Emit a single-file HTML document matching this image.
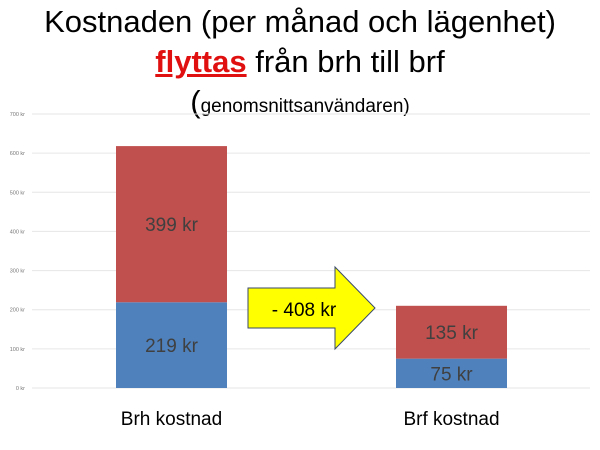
<!DOCTYPE html>
<html><head><meta charset="utf-8"><style>
body{margin:0;width:600px;height:450px;background:#fff;overflow:hidden;font-family:"Liberation Sans",sans-serif}
.t{position:absolute;left:0;width:600px;text-align:center;color:#000}
</style></head><body>
<div class="t" style="top:4px;font-size:31px">Kostnaden (per månad och lägenhet)</div>
<div class="t" style="top:44px;font-size:31px"><b style="color:#e01010;text-decoration:underline">flyttas</b> från brh till brf</div>
<div class="t" style="top:84px;font-size:31px">(<span style="font-size:19px">genomsnittsanvändaren)</span></div>
<svg id="c" width="600" height="450" style="position:absolute;left:0;top:0"></svg>
<script>
const categories=["Brh kostnad","Brf kostnad"];
const bottomVals=[219,75];
const topVals=[399,135];
const ticks=[0,100,200,300,400,500,600,700];
const NS="http://www.w3.org/2000/svg",s=document.getElementById('c');
const y=v=>388-v*(274/700);
const bx=i=>116+i*280, bw=111;
function mk(t,a,p){const e=document.createElementNS(NS,t);for(const k in a)e.setAttribute(k,a[k]);(p||s).appendChild(e);return e;}
ticks.forEach(v=>{
 const l=mk('line',{x1:32,x2:590,y1:y(v),y2:y(v),stroke:'#e6e6e6','stroke-width':1});
 
 
 const t=mk('text',{x:25,y:y(v)+2,'text-anchor':'end','font-size':5.5,fill:'#777'});
 t.textContent=v+' kr';
 
 
});
categories.forEach((c,i)=>{
 const b=bottomVals[i],tp=topVals[i];
 const r1=mk('rect',{x:bx(i),width:bw,y:y(b),height:y(0)-y(b),fill:'#4f81bd'});
 
 
 const r2=mk('rect',{x:bx(i),width:bw,y:y(b+tp),height:y(b)-y(b+tp),fill:'#c0504d'});
 
 
 const l1=mk('text',{x:bx(i)+bw/2,y:(y(0)+y(b))/2+7,'text-anchor':'middle','font-size':19,fill:'#404040'});
 l1.textContent=b+' kr';
 
 
 const l2=mk('text',{x:bx(i)+bw/2,y:(y(b)+y(b+tp))/2+7,'text-anchor':'middle','font-size':19,fill:'#404040'});
 l2.textContent=tp+' kr';
 
 
 const cl=mk('text',{x:bx(i)+bw/2,y:425,'text-anchor':'middle','font-size':19,fill:'#000'});
 cl.textContent=c;
 
 
});
const diff=(bottomVals[0]+topVals[0])-(bottomVals[1]+topVals[1]);
const ar=mk('polygon',{points:'248,288 335,288 335,267 375,308 335,349 335,328 248,328',fill:'#ffff00',stroke:'#3a4a6a','stroke-width':1});


const at=mk('text',{x:304,y:316,'text-anchor':'middle','font-size':19,fill:'#000'});
at.textContent='- '+diff+' kr';


</script>
</body></html>
